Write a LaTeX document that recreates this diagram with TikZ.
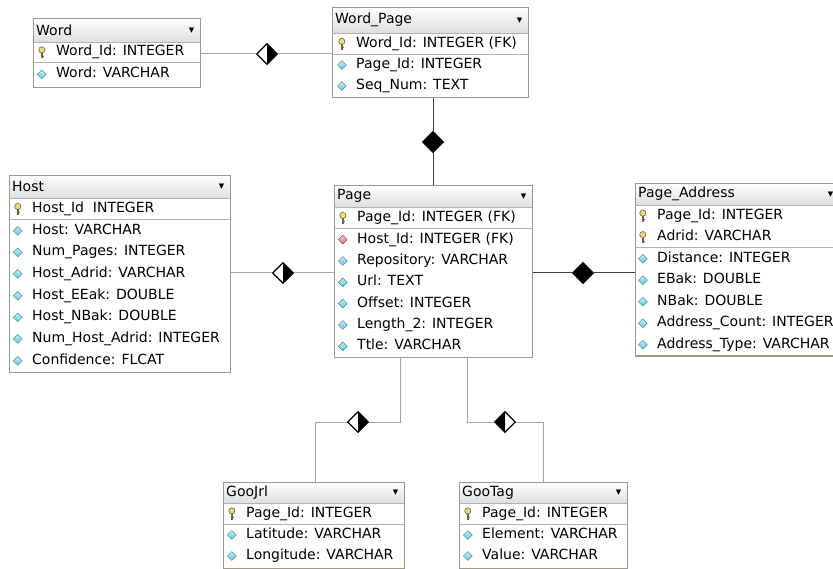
\documentclass[tikz,border=0pt]{standalone}
\usepackage{fontspec}
\setmainfont{DejaVu Sans}
\usepackage{tikz}
\usetikzlibrary{positioning,shapes}

\definecolor{frame}{HTML}{9C9A8C}
\definecolor{sepcol}{HTML}{B4B2A8}
\definecolor{relline}{HTML}{A4A49C}
\definecolor{attrcol}{HTML}{62C6D6}
\definecolor{attredge}{HTML}{3E8C9A}
\definecolor{fkcol}{HTML}{E27272}
\definecolor{fkedge}{HTML}{A04848}
\definecolor{keycol}{HTML}{EED878}
\definecolor{keyedge}{HTML}{6E6444}

\tikzset{
  hdr/.style={anchor=north west, inner sep=0pt, top color=white, bottom color=black!13},
  tbl/.style={anchor=north west, inner sep=0pt, draw=frame, line width=1.2pt},
  title/.style={anchor=west, inner sep=0pt, font=\fontsize{14}{16}\selectfont},
  drop/.style={anchor=east, inner sep=0pt, font=\fontsize{7}{7}\selectfont},
  sepl/.style={draw=sepcol, line width=1pt},
  row/.style={anchor=west, inner sep=0pt, text height=10pt, text depth=3pt, font=\fontsize{14}{16}\selectfont},
  attric/.style={diamond, inner sep=0pt, minimum size=9pt, draw=attredge, line width=.5pt, top color=attrcol!35, bottom color=attrcol},
  fkic/.style={diamond, inner sep=0pt, minimum size=9pt, draw=fkedge, line width=.5pt, top color=fkcol!35, bottom color=fkcol},
  pkey/.style={inner sep=0pt, minimum width=8pt, minimum height=13pt,
    path picture={
      \draw[draw=keyedge, fill=keycol, line width=.6pt] ([yshift=2.6pt]path picture bounding box.center) circle (3.1pt);
      \fill[keyedge] ([xshift=-.8pt,yshift=-.3pt]path picture bounding box.center) rectangle ([xshift=.8pt,yshift=-6pt]path picture bounding box.center);
      \fill[keyedge] ([xshift=.8pt,yshift=-3.4pt]path picture bounding box.center) rectangle ([xshift=2.2pt,yshift=-4.4pt]path picture bounding box.center);
    }},
  keyrow/.style={row, label={[pkey, label distance=10pt]left:{}}},
  attrrow/.style={row, label={[attric, label distance=9.5pt]left:{}}},
  fkrow/.style={row, label={[fkic, label distance=9.5pt]left:{}}},
  rel/.style={draw=relline, line width=1pt},
  idrel/.style={draw=black!75, line width=1pt},
  dmd/.style={diamond, draw=black, line width=1.2pt, fill=white, inner sep=0pt, minimum size=21pt},
  halfr/.style={dmd, path picture={\fill[black] (path picture bounding box.north) -- (path picture bounding box.east) -- (path picture bounding box.south) -- cycle;}},
  halfl/.style={dmd, path picture={\fill[black] (path picture bounding box.north) -- (path picture bounding box.west) -- (path picture bounding box.south) -- cycle;}},
  fulld/.style={dmd, fill=black}
}

\begin{document}
\begin{tikzpicture}[x=1pt,y=-1pt]
  \useasboundingbox (0,0) rectangle (833,569);

  \node[hdr, minimum width=167pt, minimum height=24pt] (word-h) at (33,18) {};
  \node[tbl, minimum width=167pt, minimum height=69pt] (word) at (33,18) {};
  \node[title, right=3pt of word-h.west] (word-t) {Word};
  \node[drop, left=6pt of word-h.east] (word-d) {▼};
  \draw[sepl] (word-h.south west) -- (word-h.south east);
  \draw[sepl] (word.west |- 0,63) -- (word.east |- 0,63);
  \node[keyrow] (word-1) at (56,52.5) {Word\_Id: INTEGER};
  \node[attrrow] (word-2) at (56,74.5) {Word: VARCHAR};

  \node[hdr, minimum width=196pt, minimum height=26pt] (wordpage-h) at (332,7) {};
  \node[tbl, minimum width=196pt, minimum height=90pt] (wordpage) at (332,7) {};
  \node[title, right=3pt of wordpage-h.west] (wordpage-t) {Word\_Page};
  \node[drop, left=6pt of wordpage-h.east] (wordpage-d) {▼};
  \draw[sepl] (wordpage-h.south west) -- (wordpage-h.south east);
  \draw[sepl] (wordpage.west |- 0,55) -- (wordpage.east |- 0,55);
  \node[keyrow] (wordpage-1) at (356,44) {Word\_Id: INTEGER (FK)};
  \node[attrrow] (wordpage-2) at (356,65) {Page\_Id: INTEGER};
  \node[attrrow] (wordpage-3) at (356,86) {Seq\_Num: TEXT};

  \node[hdr, minimum width=221pt, minimum height=23pt] (host-h) at (9,175) {};
  \node[tbl, minimum width=221pt, minimum height=197pt] (host) at (9,175) {};
  \node[title, right=3pt of host-h.west] (host-t) {Host};
  \node[drop, left=6pt of host-h.east] (host-d) {▼};
  \draw[sepl] (host-h.south west) -- (host-h.south east);
  \draw[sepl] (host.west |- 0,220) -- (host.east |- 0,220);
  \node[keyrow] (host-1) at (32,209) {Host\_Id\ \ INTEGER};
  \node[attrrow] (host-2) at (32,231) {Host: VARCHAR};
  \node[attrrow] (host-3) at (32,252.5) {Num\_Pages: INTEGER};
  \node[attrrow] (host-4) at (32,274) {Host\_Adrid: VARCHAR};
  \node[attrrow] (host-5) at (32,296) {Host\_EEak: DOUBLE};
  \node[attrrow] (host-6) at (32,317.5) {Host\_NBak: DOUBLE};
  \node[attrrow] (host-7) at (32,339) {Num\_Host\_Adrid: INTEGER};
  \node[attrrow] (host-8) at (32,361) {Confidence: FLCAT};

  \node[hdr, minimum width=198pt, minimum height=22pt] (page-h) at (334,185) {};
  \node[tbl, minimum width=198pt, minimum height=172pt] (page) at (334,185) {};
  \node[title, right=3pt of page-h.west] (page-t) {Page};
  \node[drop, left=6pt of page-h.east] (page-d) {▼};
  \draw[sepl] (page-h.south west) -- (page-h.south east);
  \draw[sepl] (page.west |- 0,229) -- (page.east |- 0,229);
  \node[keyrow] (page-1) at (357,218) {Page\_Id: INTEGER (FK)};
  \node[fkrow] (page-2) at (357,239.7) {Host\_Id: INTEGER (FK)};
  \node[attrrow] (page-3) at (357,261) {Repository: VARCHAR};
  \node[attrrow] (page-4) at (357,282.3) {Url: TEXT};
  \node[attrrow] (page-5) at (357,303.7) {Offset: INTEGER};
  \node[attrrow] (page-6) at (357,325) {Length\_2: INTEGER};
  \node[attrrow] (page-7) at (357,346.3) {Ttle: VARCHAR};

  \node[hdr, minimum width=204pt, minimum height=22pt] (pageaddr-h) at (635,183) {};
  \node[tbl, minimum width=204pt, minimum height=172.5pt] (pageaddr) at (635,183) {};
  \node[title, right=3pt of pageaddr-h.west] (pageaddr-t) {Page\_Address};
  \node[drop, left=6pt of pageaddr-h.east] (pageaddr-d) {▼};
  \draw[sepl] (pageaddr-h.south west) -- (pageaddr-h.south east);
  \draw[sepl] (pageaddr.west |- 0,248) -- (pageaddr.east |- 0,248);
  \node[keyrow] (pageaddr-1) at (657,215.75) {Page\_Id: INTEGER};
  \node[keyrow] (pageaddr-2) at (657,237.25) {Adrid: VARCHAR};
  \node[attrrow] (pageaddr-3) at (657,258.75) {Distance: INTEGER};
  \node[attrrow] (pageaddr-4) at (657,280.25) {EBak: DOUBLE};
  \node[attrrow] (pageaddr-5) at (657,301.75) {NBak: DOUBLE};
  \node[attrrow] (pageaddr-6) at (657,323.25) {Address\_Count: INTEGER};
  \node[attrrow] (pageaddr-7) at (657,344.75) {Address\_Type: VARCHAR};

  \node[hdr, minimum width=181pt, minimum height=21pt] (goourl-h) at (223,482) {};
  \node[tbl, minimum width=181pt, minimum height=86pt] (goourl) at (223,482) {};
  \node[title, right=3pt of goourl-h.west] (goourl-t) {GooJrl};
  \node[drop, left=6pt of goourl-h.east] (goourl-d) {▼};
  \draw[sepl] (goourl-h.south west) -- (goourl-h.south east);
  \draw[sepl] (goourl.west |- 0,524) -- (goourl.east |- 0,524);
  \node[keyrow] (goourl-1) at (246,513.5) {Page\_Id: INTEGER};
  \node[attrrow] (goourl-2) at (246,535) {Latitude: VARCHAR};
  \node[attrrow] (goourl-3) at (246,556) {Longitude: VARCHAR};

  \node[hdr, minimum width=168pt, minimum height=21pt] (gootag-h) at (459,482) {};
  \node[tbl, minimum width=168pt, minimum height=86pt] (gootag) at (459,482) {};
  \node[title, right=3pt of gootag-h.west] (gootag-t) {GooTag};
  \node[drop, left=6pt of gootag-h.east] (gootag-d) {▼};
  \draw[sepl] (gootag-h.south west) -- (gootag-h.south east);
  \draw[sepl] (gootag.west |- 0,524) -- (gootag.east |- 0,524);
  \node[keyrow] (gootag-1) at (482,513.5) {Page\_Id: INTEGER};
  \node[attrrow] (gootag-2) at (482,535) {Element: VARCHAR};
  \node[attrrow] (gootag-3) at (482,556) {Value: VARCHAR};

  \node[halfr] (d1) at (267,54) {};
  \draw[rel] (word.east |- d1) -- (d1) -- (wordpage.west |- d1);
  \node[fulld] (d2) at (433,142) {};
  \draw[idrel] (wordpage.south -| d2) -- (d2) -- (page.north -| d2);
  \node[halfr] (d3) at (283,273) {};
  \draw[rel] (host.east |- d3) -- (d3) -- (page.west |- d3);
  \node[fulld] (d4) at (583,273) {};
  \draw[idrel] (page.east |- d4) -- (d4) -- (pageaddr.west |- d4);
  \coordinate (b1) at (400,422);
  \coordinate (b2) at (315,422);
  \node[halfr] (d5) at (358,422) {};
  \draw[rel] (page.south -| b1) -- (b1) -- (d5) -- (b2) -- (goourl.north -| b2);
  \coordinate (b3) at (467,422);
  \coordinate (b4) at (543,422);
  \node[halfl] (d6) at (505,422) {};
  \draw[rel] (page.south -| b3) -- (b3) -- (d6) -- (b4) -- (gootag.north -| b4);
\end{tikzpicture}
\end{document}
